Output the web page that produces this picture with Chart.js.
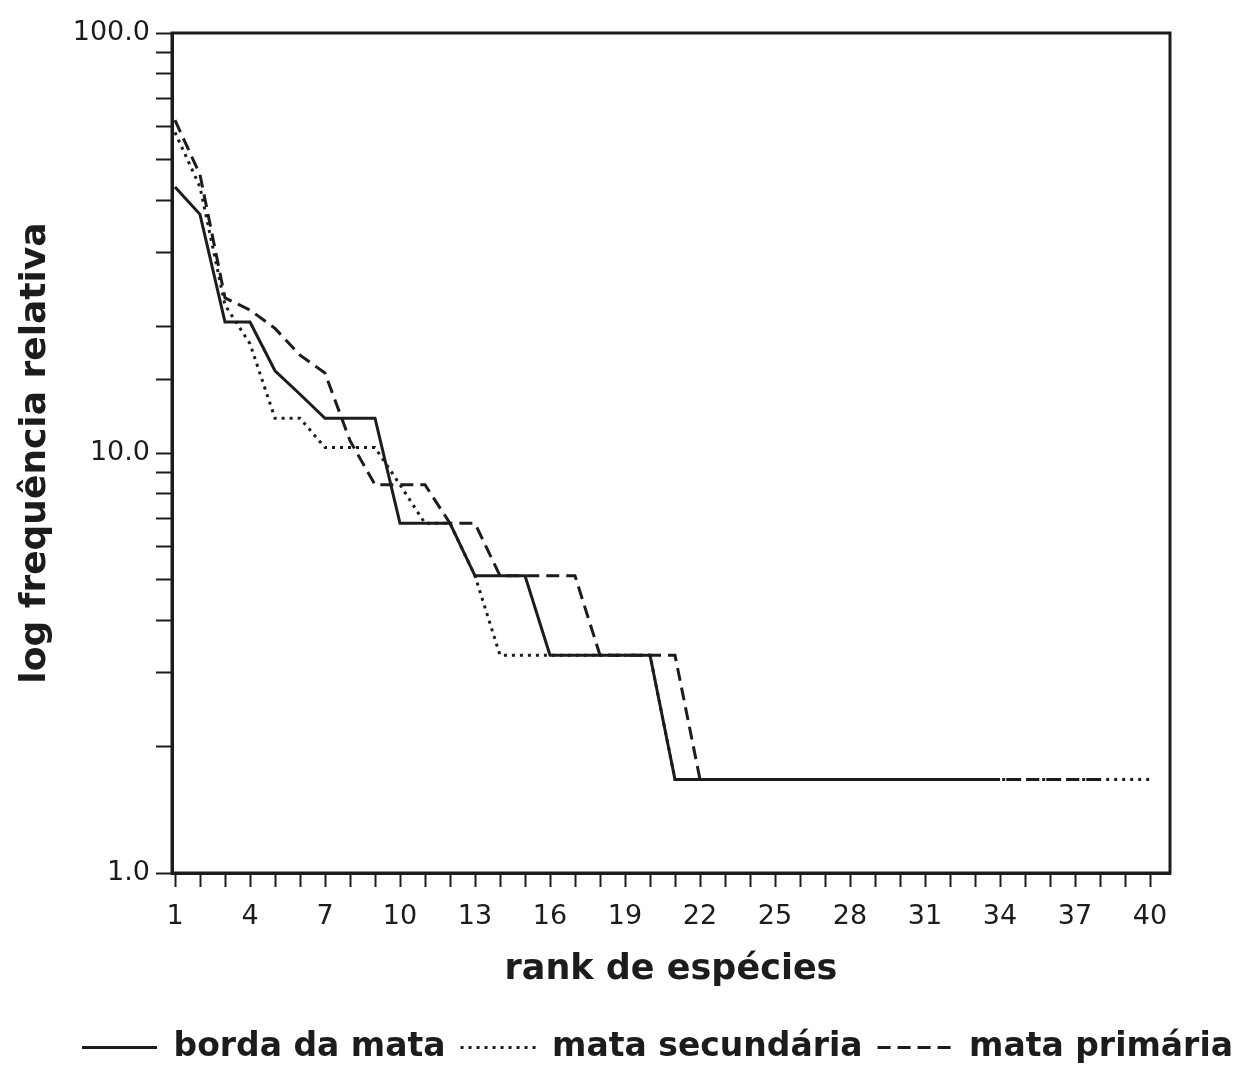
<!DOCTYPE html>
<html>
<head>
<meta charset="utf-8">
<script src="https://cdn.jsdelivr.net/npm/chart.js@4"></script>
<style>
  html, body { margin: 0; padding: 0; background: #fff; }
</style>
</head>
<body>
<canvas class="js-chart" width="1255" height="1068"></canvas>
<script>
const RANKS = [1, 2, 3, 4, 5, 6, 7, 8, 9, 10, 11, 12, 13, 14, 15, 16, 17, 18, 19, 20,
    21, 22, 23, 24, 25, 26, 27, 28, 29, 30, 31, 32, 33, 34, 35, 36, 37, 38, 39, 40];
const X_LABELS = [1, 4, 7, 10, 13, 16, 19, 22, 25, 28, 31, 34, 37, 40];
const Y_LABELS = [1, 10, 100];

// frequencia relativa por rank
const BORDA_DA_MATA = [43, 37, 20.5, 20.5, 15.7, 13.8, 12.1, 12.1, 12.1, 6.8,
    6.8, 6.8, 5.1, 5.1, 5.1, 3.3, 3.3, 3.3, 3.3, 3.3,
    1.67, 1.67, 1.67, 1.67, 1.67, 1.67, 1.67, 1.67, 1.67, 1.67,
    1.67, 1.67, 1.67, 1.67];
const MATA_SECUNDARIA = [58, 43, 22.5, 18.2, 12.1, 12.1, 10.3, 10.3, 10.3, 8.4,
    6.8, 6.8, 5.1, 3.3, 3.3, 3.3, 3.3, 3.3, 3.3, 3.3,
    1.67, 1.67, 1.67, 1.67, 1.67, 1.67, 1.67, 1.67, 1.67, 1.67,
    1.67, 1.67, 1.67, 1.67, 1.67, 1.67, 1.67, 1.67, 1.67, 1.67];
const MATA_PRIMARIA = [62, 46, 23.4, 21.9, 19.8, 17.1, 15.5, 10.7, 8.4, 8.4,
    8.4, 6.8, 6.8, 5.1, 5.1, 5.1, 5.1, 3.3, 3.3, 3.3,
    3.3, 1.67, 1.67, 1.67, 1.67, 1.67, 1.67, 1.67, 1.67, 1.67,
    1.67, 1.67, 1.67, 1.67, 1.67, 1.67, 1.67, 1.67];

const INK = '#1c1c1c';
const FONT = 'DejaVu Sans';

const toPoints = values => values.map((v, i) => ({ x: RANKS[i], y: v }));

// moldura em volta da area do grafico
const frame = {
    id: 'frame',
    afterDatasetsDraw(chart) {
        const { ctx, chartArea: a } = chart;
        ctx.save();
        ctx.lineWidth = 3;
        ctx.strokeStyle = INK;
        ctx.strokeRect(a.left, a.top, a.right - a.left, a.bottom - a.top);
        ctx.restore();
    }
};

new Chart(document.querySelector('.js-chart').getContext('2d'), {
    type: 'line',
    data: {
        datasets: [{
            label: 'borda da mata',
            data: toPoints(BORDA_DA_MATA),
            borderColor: INK,
            borderWidth: 3,
        },
        {
            label: 'mata secundária',
            data: toPoints(MATA_SECUNDARIA),
            borderColor: INK,
            borderWidth: 3,
            borderDash: [3, 5],
        },
        {
            label: 'mata primária',
            data: toPoints(MATA_PRIMARIA),
            borderColor: INK,
            borderWidth: 3,
            borderDash: [13, 7],
        }]
    },
    options: {
        responsive: false,
        animation: false,
        layout: { padding: { top: 33, right: 0, left: 60, bottom: -6 } },
        elements: { point: { radius: 0 }, line: { tension: 0 } },
        scales: {
            x: {
                type: 'linear',
                min: 0.88,
                max: 40.8,
                afterBuildTicks: s => { s.ticks = RANKS.map(v => ({ value: v })); },
                afterFit: s => { s.height = 143; },
                ticks: {
                    autoSkip: false,
                    maxRotation: 0,
                    padding: 14,
                    color: INK,
                    font: { family: FONT, size: 27 },
                    callback: v => X_LABELS.includes(v) ? String(v) : ''
                },
                grid: { drawOnChartArea: false, tickLength: 14, tickWidth: 2, tickColor: INK },
                border: { color: INK, width: 3 },
                title: {
                    display: true,
                    text: 'rank de espécies',
                    color: INK,
                    font: { family: FONT, size: 35, weight: 'bold' },
                    padding: { top: 0, bottom: 25 }
                }
            },
            y: {
                type: 'logarithmic',
                min: 1,
                max: 100,
                afterFit: s => { s.width = 112; },
                ticks: {
                    autoSkip: false,
                    padding: 6,
                    color: INK,
                    font: { family: FONT, size: 27 },
                    callback: v => Y_LABELS.includes(v) ? v.toFixed(1) : ''
                },
                grid: { drawOnChartArea: false, tickLength: 16, tickWidth: 2, tickColor: INK },
                border: { color: INK, width: 3 },
                title: {
                    display: true,
                    text: 'log frequência relativa',
                    color: INK,
                    font: { family: FONT, size: 36, weight: 'bold' },
                    padding: { top: -46, bottom: 0 }
                }
            },
            // eixo vazio so para reservar a margem da direita
            margem: {
                type: 'linear',
                position: 'right',
                ticks: { display: false },
                grid: { display: false },
                border: { display: false },
                afterFit: s => { s.width = 85; }
            }
        },
        plugins: {
            tooltip: { enabled: false },
            legend: {
                position: 'bottom',
                labels: {
                    usePointStyle: true,
                    pointStyle: 'line',
                    pointStyleWidth: 75,
                    boxWidth: 75,
                    padding: 15,
                    color: INK,
                    font: { family: FONT, size: 33, weight: 'bold' },
                    generateLabels: chart => Chart.defaults.plugins.legend.labels.generateLabels(chart)
                        .map(item => ({
                            ...item,
                            lineWidth: 3,
                            strokeStyle: INK,
                            lineDash: chart.data.datasets[item.datasetIndex].borderDash || []
                        }))
                }
            }
        }
    },
    plugins: [frame]
});
</script>
</body>
</html>
